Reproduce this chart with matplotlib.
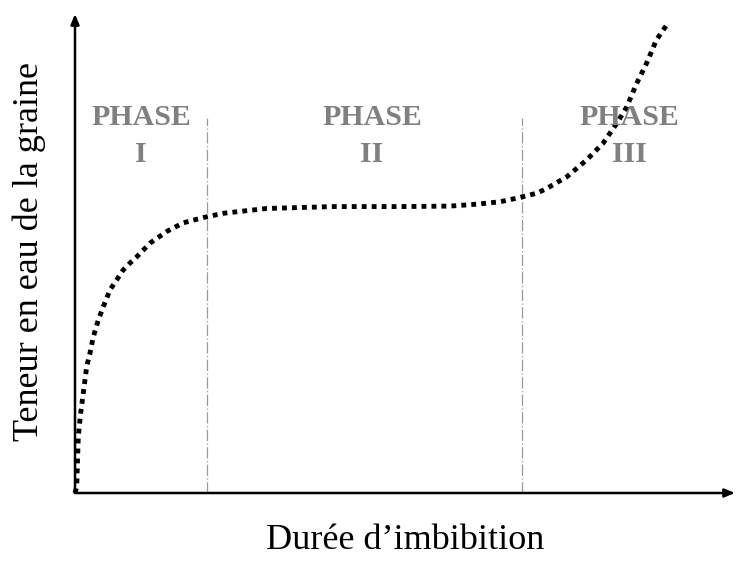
import matplotlib.pyplot as plt

# water content curve (arbitrary units, 0-100 on both axes)
duree = [0, 0.26, 0.35, 0.5, 0.86, 1.26, 1.77, 2.27, 2.77, 3.53, 4.29, 5.3, 6.32,
         7.32, 8.33, 9.35, 11.4, 13.9, 16.4, 19.4, 22.5, 29.0, 39.1, 49.2, 56.8,
         60.9, 64.4, 67.4, 70.0, 71.5, 74.5, 77.5, 80.0, 82.1, 83.6, 85.1, 86.6,
         88.1, 89.9]
teneur = [0, 1.3, 5.5, 11.8, 16.7, 20.9, 26.4, 29.2, 32.6, 36.1, 38.9, 42.4, 44.5,
          46.6, 48.0, 49.3, 52.2, 54.6, 56.4, 57.5, 58.4, 59.4, 59.8, 59.8, 59.9,
          60.3, 60.8, 61.7, 62.6, 63.6, 66.0, 69.5, 73.0, 77.2, 80.6, 85.5, 89.7,
          94.6, 98.2]

limites_phases = [20.0, 67.7]
hauteur_limites = 78.3
phases = ["PHASE\nI", "PHASE\nII", "PHASE\nIII"]
centres_phases = [10.0, 45.0, 84.0]

fig = plt.figure(figsize=(7.36, 5.61), dpi=100)
ax = fig.add_axes([0.1019, 0.1212, 0.8967, 0.8538])
ax.set_xlim(0, 100)
ax.set_ylim(0, 100)
for s in ax.spines.values():
    s.set_visible(False)
ax.set_xticks([])
ax.set_yticks([])

# axes drawn as arrows
arrow = dict(arrowstyle="-|>,head_length=0.6,head_width=0.25", lw=1.8, color="black",
             shrinkA=0, shrinkB=0)
ax.annotate("", xy=(1.0, 0), xytext=(0, 0), xycoords="axes fraction",
            arrowprops=arrow, annotation_clip=False)
ax.annotate("", xy=(0, 1.0), xytext=(0, 0), xycoords="axes fraction",
            arrowprops=arrow, annotation_clip=False)

for x in limites_phases:
    ax.plot([x, x], [0, hauteur_limites], color="#999999", lw=0.9,
            linestyle=(0, (9, 2, 1, 2)))

ax.plot(duree, teneur, color="black", lw=3.5, linestyle=(0, (1, 1.05)),
        dash_capstyle="butt", clip_on=False)

for x, txt in zip(centres_phases, phases):
    ax.text(x, 74.5, txt, ha="center", va="center", fontsize=21.5, fontweight="bold",
            color="#808080", family="Liberation Serif", linespacing=1.45)

fig.text(0.040, 0.551, "Teneur en eau de la graine", rotation=90, ha="center",
         va="center", fontsize=26, family="Liberation Serif")
fig.text(0.55, 0.036, "Durée d\u2019imbibition", ha="center", va="center",
         fontsize=26, family="Liberation Serif")

fig.savefig("out.png", dpi=100)
